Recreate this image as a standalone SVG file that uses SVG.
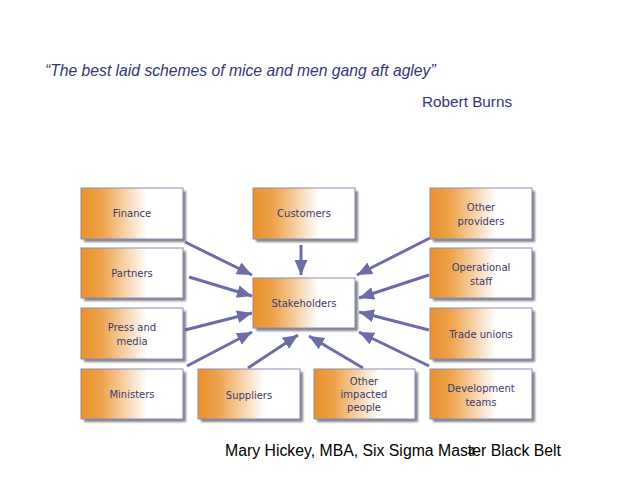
<svg xmlns="http://www.w3.org/2000/svg" width="638" height="479" viewBox="0 0 638 479">
<style>
.box{fill:url(#og);stroke:#8c8cb4;stroke-width:1}
.sh{fill:#5a5a66;opacity:0.75;filter:url(#bl)}
.lbl{font-family:"DejaVu Sans",Verdana,sans-serif;font-size:10px;fill:#3b3b6b;text-anchor:middle}
.ar{stroke:#6c6ca8;stroke-width:3;fill:none;marker-end:url(#ah)}
.q{font-family:"Liberation Sans",Arial,sans-serif;fill:#35357a}
</style>
<defs>
<linearGradient id="og" x1="0" y1="0" x2="1" y2="0">
<stop offset="0" stop-color="#e8922a"/>
<stop offset="0.2" stop-color="#eea24a"/>
<stop offset="0.65" stop-color="#ffffff"/>
<stop offset="1" stop-color="#ffffff"/>
</linearGradient>
<filter id="bl" x="-10%" y="-10%" width="120%" height="130%"><feGaussianBlur stdDeviation="0.8"/></filter>
<marker id="ah" markerUnits="userSpaceOnUse" markerWidth="16" markerHeight="14" refX="15" refY="6.5" orient="auto">
<path d="M0,0 L15,6.5 L0,13 z" fill="#6c6ca8"/>
</marker>
</defs>
<rect width="638" height="479" fill="#ffffff"/>
<text class="q" x="45" y="76" font-size="15.7" font-style="italic">“The best laid schemes of mice and men gang aft agley”</text>
<text class="q" x="422" y="107" font-size="15.3" fill="#333366">Robert Burns</text>

<g id="connectors">
<line class="ar" x1="185" y1="242" x2="252" y2="275"/>
<line class="ar" x1="301" y1="245" x2="301" y2="275"/>
<line class="ar" x1="189" y1="277" x2="252" y2="296"/>
<line class="ar" x1="185" y1="330" x2="252" y2="313"/>
<line class="ar" x1="187" y1="366" x2="252" y2="332"/>
<line class="ar" x1="248" y1="368" x2="298" y2="335"/>
<line class="ar" x1="363" y1="368" x2="309" y2="336"/>
<line class="ar" x1="429" y1="366" x2="359" y2="332"/>
<line class="ar" x1="429" y1="330" x2="359" y2="312"/>
<line class="ar" x1="429" y1="275" x2="359" y2="298"/>
<line class="ar" x1="430" y1="238" x2="357" y2="275"/>
</g>

<g id="finance"><rect class="sh" x="84" y="191" width="102" height="51"/><rect class="box" x="81" y="188" width="102" height="51"/><text class="lbl" x="132" y="217">Finance</text></g>
<g id="customers"><rect class="sh" x="256" y="191" width="102" height="51"/><rect class="box" x="253" y="188" width="102" height="51"/><text class="lbl" x="304" y="217">Customers</text></g>
<g id="other-providers"><rect class="sh" x="433" y="191" width="102" height="51"/><rect class="box" x="430" y="188" width="102" height="51"/><text class="lbl" x="481" y="211">Other</text><text class="lbl" x="481" y="225">providers</text></g>
<g id="partners"><rect class="sh" x="84" y="251" width="102" height="50"/><rect class="box" x="81" y="248" width="102" height="50"/><text class="lbl" x="132" y="277">Partners</text></g>
<g id="operational-staff"><rect class="sh" x="433" y="251" width="102" height="50"/><rect class="box" x="430" y="248" width="102" height="50"/><text class="lbl" x="481" y="271">Operational</text><text class="lbl" x="481" y="285">staff</text></g>
<g id="stakeholders"><rect class="sh" x="256" y="281" width="102" height="50"/><rect class="box" x="253" y="278" width="102" height="50"/><text class="lbl" x="304" y="307">Stakeholders</text></g>
<g id="press-media"><rect class="sh" x="84" y="311" width="102" height="51"/><rect class="box" x="81" y="308" width="102" height="51"/><text class="lbl" x="132" y="331">Press and</text><text class="lbl" x="132" y="345">media</text></g>
<g id="trade-unions"><rect class="sh" x="433" y="311" width="102" height="51"/><rect class="box" x="430" y="308" width="102" height="51"/><text class="lbl" x="481" y="338">Trade unions</text></g>
<g id="ministers"><rect class="sh" x="84" y="372" width="102" height="50"/><rect class="box" x="81" y="369" width="102" height="50"/><text class="lbl" x="132" y="398">Ministers</text></g>
<g id="suppliers"><rect class="sh" x="201" y="372" width="102" height="50"/><rect class="box" x="198" y="369" width="102" height="50"/><text class="lbl" x="249" y="399">Suppliers</text></g>
<g id="other-impacted-people"><rect class="sh" x="317" y="372" width="101" height="50"/><rect class="box" x="314" y="369" width="101" height="50"/><text class="lbl" x="364" y="385">Other</text><text class="lbl" x="364" y="398">impacted</text><text class="lbl" x="364" y="411">people</text></g>
<g id="development-teams"><rect class="sh" x="433" y="372" width="102" height="50"/><rect class="box" x="430" y="369" width="102" height="50"/><text class="lbl" x="481" y="392">Development</text><text class="lbl" x="481" y="406">teams</text></g>

<text x="225" y="456" font-family="'Liberation Sans',Arial,sans-serif" font-size="15.8" fill="#000000">Mary Hickey, MBA, Six Sigma Master Black Belt</text>
<text x="468" y="456" font-family="'Liberation Sans',Arial,sans-serif" font-size="13" fill="#000000">4</text>
</svg>
